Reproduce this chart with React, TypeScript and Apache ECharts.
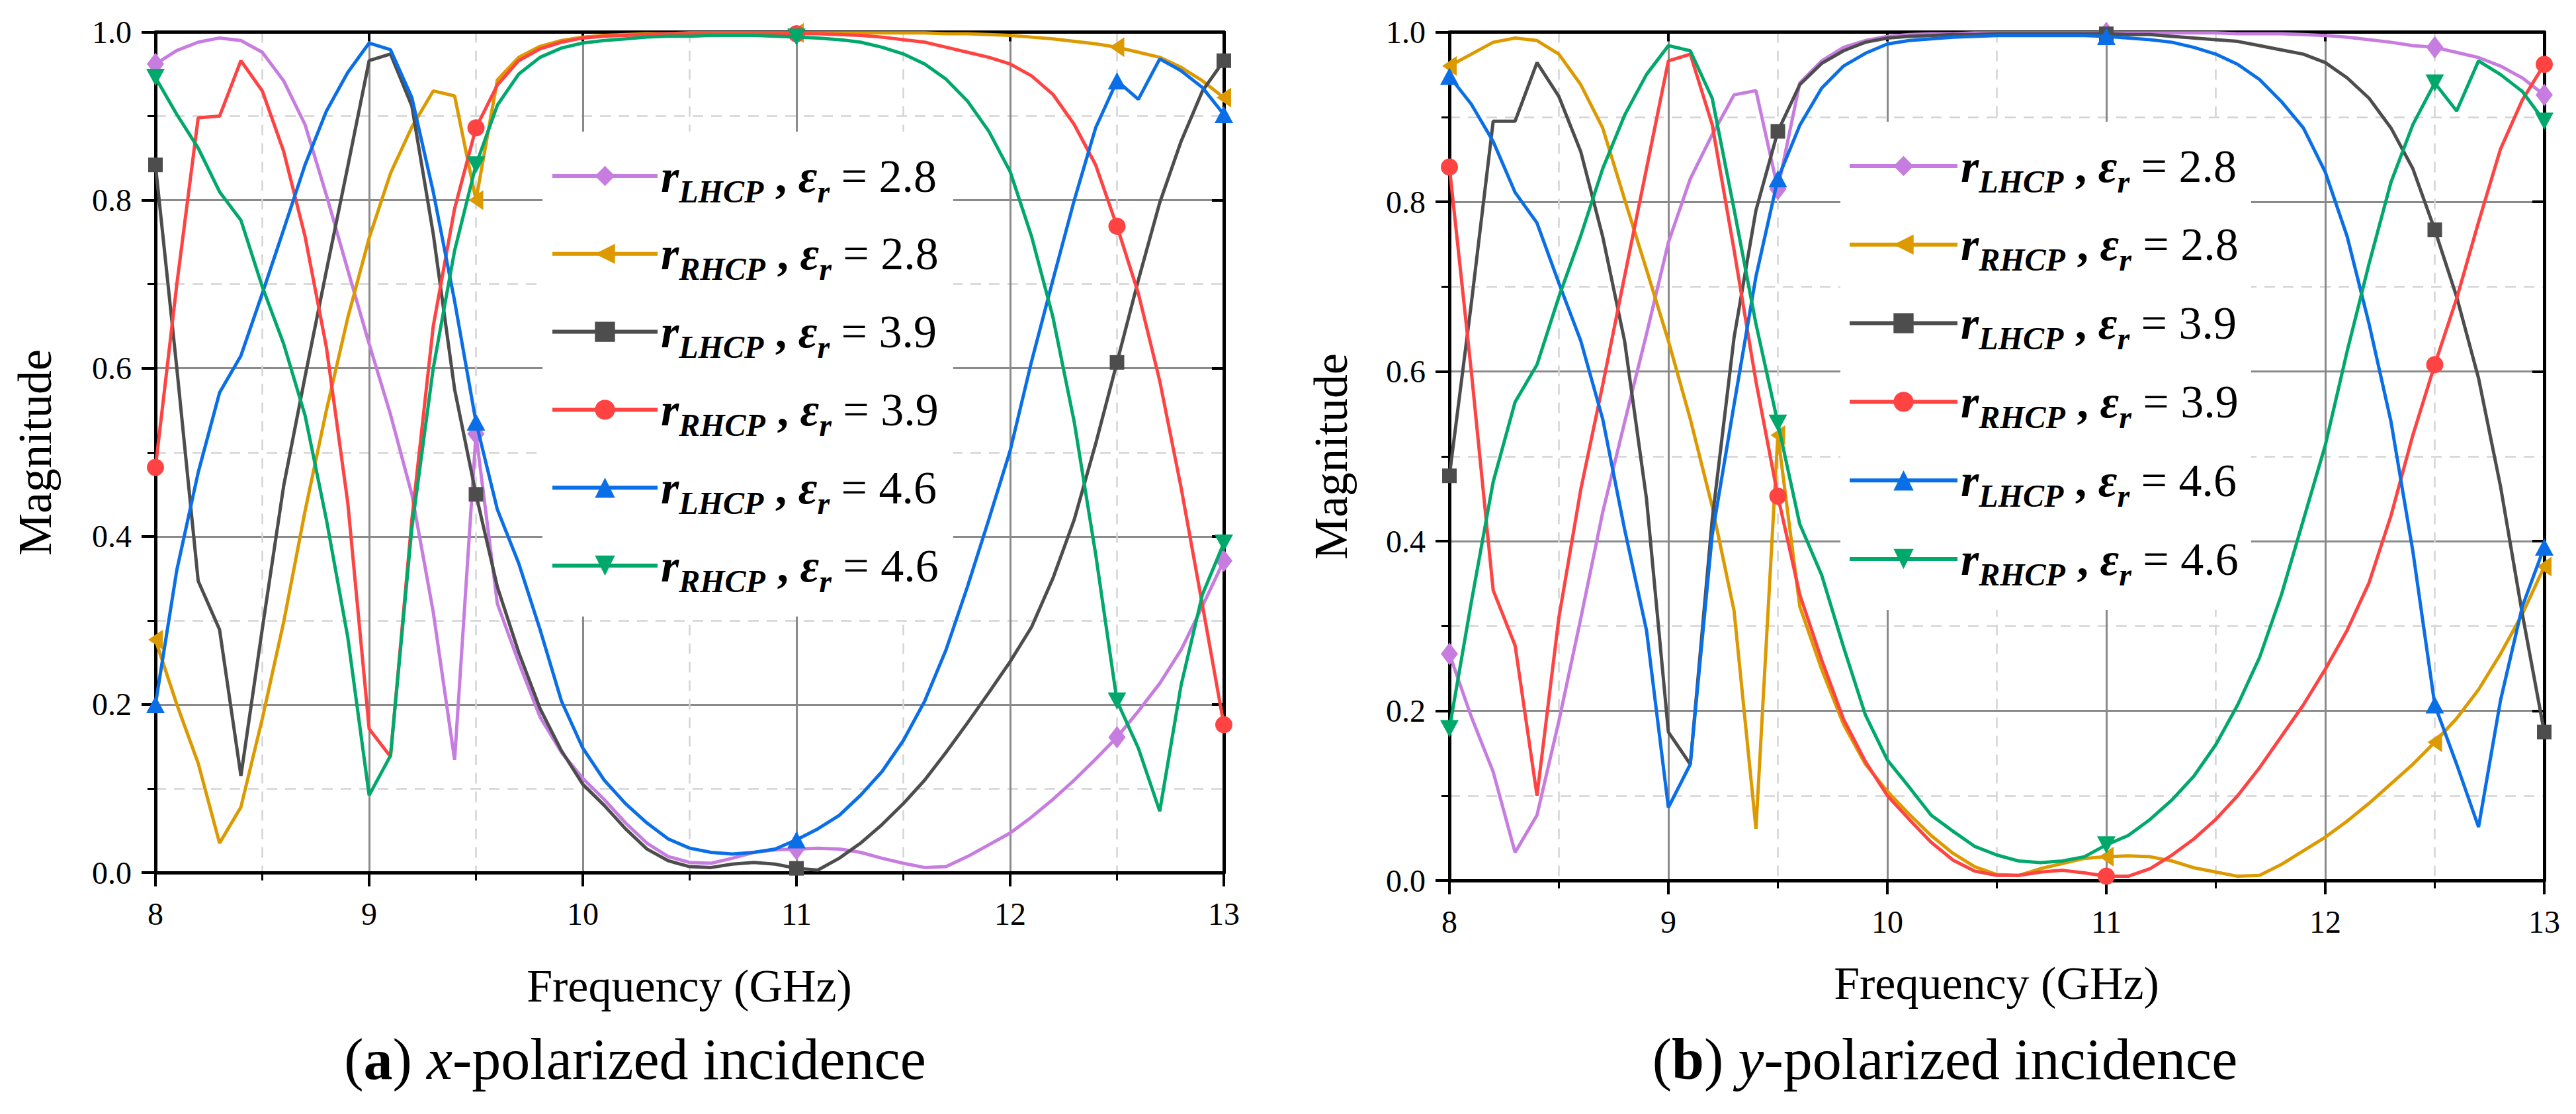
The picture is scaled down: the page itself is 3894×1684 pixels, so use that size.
import React, { useEffect, useRef } from "react";
import * as echarts from "echarts";

// ---------------- data ----------------
const FREQ = [
  8.0, 8.1, 8.2, 8.3, 8.4, 8.5, 8.6, 8.7, 8.8, 8.9,
  9.0, 9.1, 9.2, 9.3, 9.4, 9.5, 9.6, 9.7, 9.8, 9.9,
  10.0, 10.1, 10.2, 10.3, 10.4, 10.5, 10.6, 10.7, 10.8, 10.9,
  11.0, 11.1, 11.2, 11.3, 11.4, 11.5, 11.6, 11.7, 11.8, 11.9,
  12.0, 12.1, 12.2, 12.3, 12.4, 12.5, 12.6, 12.7, 12.8, 12.9,
  13.0,
];
// indices of the points that carry a marker (8, 9.5, 11, 12.5, 13 GHz)
const MARK_IDX = [0, 15, 30, 45, 50];

const X_TICKS = [8, 9, 10, 11, 12, 13];
const Y_TICKS = [0.0, 0.2, 0.4, 0.6, 0.8, 1.0];

// (a) x-polarized incidence
const X_LHCP_28 = [
  0.962, 0.978, 0.988, 0.993, 0.990, 0.976, 0.942, 0.890, 0.806, 0.717,
  0.629, 0.545, 0.450, 0.310, 0.134, 0.522, 0.320, 0.250, 0.185, 0.143,
  0.112, 0.087, 0.059, 0.035, 0.019, 0.012, 0.011, 0.017, 0.024, 0.027,
  0.028, 0.029, 0.028, 0.024, 0.017, 0.011, 0.006, 0.007, 0.019, 0.033,
  0.047, 0.066, 0.087, 0.110, 0.135, 0.161, 0.192, 0.225, 0.265, 0.317,
  0.371,
];
const X_RHCP_28 = [
  0.277, 0.200, 0.130, 0.035, 0.078, 0.183, 0.298, 0.430, 0.550, 0.660,
  0.755, 0.832, 0.887, 0.930, 0.924, 0.800, 0.943, 0.970, 0.983, 0.990,
  0.994, 0.996, 0.997, 0.998, 0.998, 0.999, 0.999, 0.999, 0.999, 0.999,
  0.999, 0.999, 0.999, 0.999, 0.999, 0.999, 0.999, 0.998, 0.998, 0.997,
  0.996, 0.994, 0.992, 0.989, 0.986, 0.982, 0.976, 0.970, 0.958, 0.942,
  0.922,
];
const X_LHCP_39 = [
  0.842, 0.600, 0.347, 0.289, 0.115, 0.290, 0.460, 0.590, 0.716, 0.840,
  0.966, 0.974, 0.912, 0.760, 0.575, 0.450, 0.340, 0.262, 0.195, 0.145,
  0.105, 0.080, 0.052, 0.028, 0.014, 0.007, 0.006, 0.010, 0.012, 0.010,
  0.005, 0.003, 0.017, 0.035, 0.057, 0.082, 0.110, 0.143, 0.178, 0.214,
  0.251, 0.292, 0.350, 0.420, 0.510, 0.607, 0.705, 0.797, 0.870, 0.930,
  0.966,
];
const X_RHCP_39 = [
  0.482, 0.700, 0.898, 0.900, 0.966, 0.930, 0.858, 0.757, 0.625, 0.440,
  0.171, 0.138, 0.420, 0.650, 0.790, 0.886, 0.937, 0.966, 0.980, 0.988,
  0.993, 0.995, 0.996, 0.997, 0.998, 0.998, 0.998, 0.998, 0.998, 0.998,
  0.998, 0.998, 0.997, 0.996, 0.994, 0.991, 0.988, 0.982, 0.976, 0.970,
  0.962, 0.948, 0.926, 0.890, 0.842, 0.769, 0.689, 0.585, 0.458, 0.318,
  0.176,
];
const X_LHCP_46 = [
  0.200, 0.360, 0.476, 0.571, 0.615, 0.689, 0.765, 0.842, 0.906, 0.952,
  0.987, 0.979, 0.922, 0.810, 0.680, 0.536, 0.432, 0.368, 0.289, 0.204,
  0.148, 0.110, 0.082, 0.059, 0.040, 0.029, 0.024, 0.022, 0.024, 0.028,
  0.039, 0.052, 0.068, 0.092, 0.120, 0.157, 0.204, 0.265, 0.340, 0.420,
  0.502, 0.608, 0.705, 0.800, 0.886, 0.942, 0.920, 0.968, 0.954, 0.934,
  0.902,
];
const X_RHCP_46 = [
  0.946, 0.902, 0.862, 0.810, 0.776, 0.697, 0.629, 0.544, 0.420, 0.280,
  0.092, 0.139, 0.410, 0.600, 0.740, 0.842, 0.913, 0.950, 0.970, 0.981,
  0.987, 0.990, 0.992, 0.994, 0.995, 0.995, 0.996, 0.996, 0.996, 0.995,
  0.994, 0.993, 0.991, 0.988, 0.982, 0.974, 0.962, 0.944, 0.918, 0.882,
  0.834, 0.757, 0.661, 0.536, 0.379, 0.204, 0.148, 0.073, 0.223, 0.331,
  0.392,
];

// (b) y-polarized incidence
const Y_LHCP_28 = [
  0.267, 0.193, 0.128, 0.033, 0.077, 0.188, 0.309, 0.434, 0.540, 0.644,
  0.752, 0.827, 0.879, 0.926, 0.931, 0.815, 0.940, 0.966, 0.982, 0.990,
  0.995, 0.997, 0.998, 0.998, 0.999, 0.999, 0.999, 0.999, 0.999, 0.999,
  0.999, 0.999, 0.999, 0.999, 0.999, 0.999, 0.998, 0.998, 0.998, 0.997,
  0.996, 0.994, 0.991, 0.988, 0.984, 0.982, 0.976, 0.970, 0.960, 0.946,
  0.926,
];
const Y_RHCP_28 = [
  0.960, 0.974, 0.988, 0.993, 0.990, 0.974, 0.938, 0.887, 0.803, 0.720,
  0.636, 0.544, 0.441, 0.318, 0.061, 0.525, 0.323, 0.249, 0.184, 0.137,
  0.105, 0.078, 0.053, 0.032, 0.016, 0.007, 0.006, 0.014, 0.020, 0.026,
  0.028, 0.029, 0.028, 0.023, 0.015, 0.010, 0.005, 0.006, 0.019, 0.035,
  0.051, 0.070, 0.091, 0.114, 0.137, 0.163, 0.191, 0.225, 0.267, 0.314,
  0.370,
];
const Y_LHCP_39 = [
  0.477, 0.680, 0.895, 0.895, 0.964, 0.924, 0.859, 0.759, 0.636, 0.450,
  0.175, 0.137, 0.425, 0.640, 0.790, 0.883, 0.938, 0.963, 0.978, 0.988,
  0.993, 0.995, 0.996, 0.997, 0.997, 0.998, 0.998, 0.998, 0.998, 0.998,
  0.998, 0.997, 0.997, 0.995, 0.993, 0.991, 0.989, 0.984, 0.979, 0.974,
  0.964, 0.946, 0.922, 0.887, 0.839, 0.767, 0.688, 0.592, 0.465, 0.314,
  0.175,
];
const Y_RHCP_39 = [
  0.841, 0.600, 0.342, 0.277, 0.100, 0.310, 0.461, 0.584, 0.712, 0.839,
  0.966, 0.974, 0.891, 0.743, 0.588, 0.453, 0.337, 0.260, 0.190, 0.140,
  0.100, 0.072, 0.045, 0.024, 0.011, 0.006, 0.006, 0.010, 0.012, 0.009,
  0.005, 0.005, 0.014, 0.030, 0.049, 0.072, 0.100, 0.133, 0.170, 0.207,
  0.249, 0.295, 0.351, 0.430, 0.525, 0.608, 0.686, 0.776, 0.862, 0.920,
  0.962,
];
const Y_LHCP_46 = [
  0.948, 0.915, 0.871, 0.811, 0.775, 0.704, 0.636, 0.544, 0.414, 0.295,
  0.086, 0.137, 0.407, 0.561, 0.712, 0.827, 0.890, 0.934, 0.960, 0.975,
  0.986, 0.990, 0.992, 0.994, 0.995, 0.996, 0.996, 0.996, 0.996, 0.996,
  0.995, 0.993, 0.991, 0.988, 0.982, 0.974, 0.962, 0.944, 0.918, 0.887,
  0.835, 0.759, 0.656, 0.541, 0.388, 0.207, 0.137, 0.063, 0.212, 0.323,
  0.393,
];
const Y_RHCP_46 = [
  0.179, 0.328, 0.470, 0.564, 0.608, 0.688, 0.760, 0.839, 0.902, 0.950,
  0.984, 0.978, 0.922, 0.791, 0.656, 0.539, 0.420, 0.360, 0.275, 0.195,
  0.142, 0.110, 0.077, 0.058, 0.040, 0.030, 0.023, 0.021, 0.023, 0.028,
  0.042, 0.053, 0.072, 0.095, 0.123, 0.160, 0.207, 0.263, 0.337, 0.425,
  0.513, 0.624, 0.727, 0.823, 0.891, 0.940, 0.907, 0.966, 0.950, 0.930,
  0.895,
];

const SERIES_NAMES = [
  "rLHCP, εr = 2.8",
  "rRHCP, εr = 2.8",
  "rLHCP, εr = 3.9",
  "rRHCP, εr = 3.9",
  "rLHCP, εr = 4.6",
  "rRHCP, εr = 4.6",
];
const LEGEND_RICH_TEXT = [
  "{r|r}{sub|LHCP}{c| , }{e|ε}{sub|r}{n| = 2.8}",
  "{r|r}{sub|RHCP}{c| , }{e|ε}{sub|r}{n| = 2.8}",
  "{r|r}{sub|LHCP}{c| , }{e|ε}{sub|r}{n| = 3.9}",
  "{r|r}{sub|RHCP}{c| , }{e|ε}{sub|r}{n| = 3.9}",
  "{r|r}{sub|LHCP}{c| , }{e|ε}{sub|r}{n| = 4.6}",
  "{r|r}{sub|RHCP}{c| , }{e|ε}{sub|r}{n| = 4.6}",
];
const X_POL_DATA = [X_LHCP_28, X_RHCP_28, X_LHCP_39, X_RHCP_39, X_LHCP_46, X_RHCP_46];
const Y_POL_DATA = [Y_LHCP_28, Y_RHCP_28, Y_LHCP_39, Y_RHCP_39, Y_LHCP_46, Y_RHCP_46];

// ---------------- styles ----------------
const COLORS = ["#C77DE0", "#DC9A00", "#4D4D4D", "#FF4343", "#0A6FE6", "#00A86B"];
const SYMBOLS = [
  "diamond",
  "path://M10,0L10,16L0,8Z",
  "rect",
  "circle",
  "triangle",
  "path://M0,0L16,0L8,14Z",
];
const SYMBOL_SIZES: any[] = [[26, 34], [22, 30], 22, 26, [28, 26], [28, 26]];

const FONT = "Liberation Serif";

function buildSeries(data: number[][], xIdx: number, yIdx: number) {
  return data.map((vals, s) => ({
    type: "line",
    name: SERIES_NAMES[s],
    xAxisIndex: xIdx,
    yAxisIndex: yIdx,
    symbol: SYMBOLS[s],
    symbolSize: SYMBOL_SIZES[s],
    showSymbol: true,
    showAllSymbol: true,
    smooth: false,
    clip: false,
    z: 3 + s,
    lineStyle: { width: 5, color: COLORS[s] },
    itemStyle: { color: COLORS[s], borderWidth: 0 },
    emphasis: { disabled: true },
    data: vals.map((v, i) =>
      MARK_IDX.includes(i) ? { value: [FREQ[i], v] } : { value: [FREQ[i], v], symbol: "none" }
    ),
  }));
}

const AXIS_LINE = { show: true, onZero: false, lineStyle: { color: "#000", width: 5 } };
const MAJOR_GRID = { show: true, lineStyle: { color: "#8a8a8a", width: 3, type: "solid" } };
const MINOR_GRID = { show: true, lineStyle: { color: "#d4d4d4", width: 2.5, type: [16, 12] } };
const TICK_RICH = { t: { fontFamily: FONT, fontSize: 48, color: "#000" } };
const LABEL = { color: "#000", fontFamily: FONT, fontSize: 48, rich: TICK_RICH };

function bottomX(gridIndex: number) {
  return {
    type: "value",
    gridIndex,
    position: "bottom",
    min: X_TICKS[0],
    max: X_TICKS[X_TICKS.length - 1],
    interval: 1,
    axisLine: AXIS_LINE,
    axisTick: { show: true, inside: false, length: 21, lineStyle: { color: "#000", width: 4 } },
    minorTick: { show: true, splitNumber: 2, length: 12, lineStyle: { color: "#000", width: 3 } },
    axisLabel: { ...LABEL, margin: 38, formatter: (v: number) => `{t|${v}}` },
    splitLine: MAJOR_GRID,
    minorSplitLine: MINOR_GRID,
  };
}
function topX(gridIndex: number) {
  return {
    type: "value",
    gridIndex,
    position: "top",
    min: X_TICKS[0],
    max: X_TICKS[X_TICKS.length - 1],
    interval: 1,
    axisLine: AXIS_LINE,
    axisTick: { show: true, inside: true, length: 14, lineStyle: { color: "#000", width: 4 } },
    axisLabel: { show: false },
    splitLine: { show: false },
  };
}
function leftY(gridIndex: number) {
  return {
    type: "value",
    gridIndex,
    position: "left",
    min: Y_TICKS[0],
    max: Y_TICKS[Y_TICKS.length - 1],
    interval: 0.2,
    axisLine: AXIS_LINE,
    axisTick: { show: true, inside: false, length: 21, lineStyle: { color: "#000", width: 4 } },
    minorTick: { show: true, splitNumber: 2, length: 12, lineStyle: { color: "#000", width: 3 } },
    axisLabel: { ...LABEL, margin: 36, formatter: (v: number) => `{t|${v.toFixed(1)}}` },
    splitLine: MAJOR_GRID,
    minorSplitLine: MINOR_GRID,
  };
}
function rightY(gridIndex: number) {
  return {
    type: "value",
    gridIndex,
    position: "right",
    min: Y_TICKS[0],
    max: Y_TICKS[Y_TICKS.length - 1],
    interval: 0.2,
    axisLine: AXIS_LINE,
    axisTick: { show: true, inside: true, length: 18, lineStyle: { color: "#000", width: 4 } },
    axisLabel: { show: false },
    splitLine: { show: false },
  };
}

const RICH = {
  r: { fontFamily: FONT, fontSize: 70, fontWeight: "bold", fontStyle: "italic", lineHeight: 90, color: "#000" },
  sub: {
    fontFamily: FONT, fontSize: 48, fontWeight: "bold", fontStyle: "italic",
    lineHeight: 90, padding: [46, 0, 0, 0], color: "#000",
  },
  c: { fontFamily: FONT, fontSize: 70, fontWeight: "bold", lineHeight: 90, color: "#000" },
  e: { fontFamily: FONT, fontSize: 70, fontWeight: "bold", fontStyle: "italic", lineHeight: 90, color: "#000" },
  n: { fontFamily: FONT, fontSize: 70, fontWeight: "normal", fontStyle: "normal", lineHeight: 90, color: "#000" },
};

function legendFor(left: number, top: number, gap: number, itemWidth: number, padding: number[]) {
  return {
    show: true,
    orient: "vertical",
    left,
    top,
    padding,
    itemGap: gap,
    itemWidth,
    itemHeight: 38,
    backgroundColor: "#ffffff",
    selectedMode: false,
    lineStyle: { width: 6 },
    data: SERIES_NAMES,
    formatter: (name: string) => LEGEND_RICH_TEXT[SERIES_NAMES.indexOf(name)],
    textStyle: { fontFamily: FONT, fontSize: 70, color: "#000", rich: RICH },
  };
}

const TEXT_RICH = (size: number) => ({
  t: { fontFamily: FONT, fontSize: size, fontWeight: "normal", fontStyle: "normal", fill: "#000", color: "#000" },
  b: { fontFamily: FONT, fontSize: size, fontWeight: "bold", fontStyle: "normal", fill: "#000", color: "#000" },
  i: { fontFamily: FONT, fontSize: size, fontWeight: "normal", fontStyle: "italic", fill: "#000", color: "#000" },
});

function textEl(x: number, y: number, text: string, size: number, rotation = 0) {
  return {
    type: "text",
    x,
    y,
    rotation,
    silent: true,
    style: {
      text,
      fontFamily: FONT,
      fontSize: size,
      fill: "#000",
      align: "center",
      verticalAlign: "middle",
      textAlign: "center",
      textVerticalAlign: "middle",
      rich: TEXT_RICH(size),
    },
  };
}

export default function App() {
  const ref = useRef<HTMLDivElement>(null);
  useEffect(() => {
    if (!ref.current) return;
    const chart = echarts.init(ref.current, null, { renderer: "svg" });
    const option: any = {
      animation: false,
      backgroundColor: "#ffffff",
      textStyle: { fontFamily: FONT },
      grid: [
        { left: 235, top: 48.5, width: 1615, height: 1270.5, containLabel: false },
        { left: 2191, top: 48.5, width: 1655, height: 1282.5, containLabel: false },
      ],
      xAxis: [bottomX(0), topX(0), bottomX(1), topX(1)],
      yAxis: [leftY(0), rightY(0), leftY(1), rightY(1)],
      legend: [
        legendFor(820, 199, 23.8, 159, [20, 22, 30, 12]),
        legendFor(2782, 184, 24.8, 163, [20, 19, 30, 11]),
      ],
      series: [...buildSeries(X_POL_DATA, 0, 0), ...buildSeries(Y_POL_DATA, 2, 2)],
      graphic: [
        textEl(53, 684, "{t|Magnitude}", 72, Math.PI / 2),
        textEl(2012, 690, "{t|Magnitude}", 72, Math.PI / 2),
        textEl(1042, 1490, "{t|Frequency (GHz)}", 70),
        textEl(3018, 1486, "{t|Frequency (GHz)}", 70),
        textEl(960, 1601, "{t|(}{b|a}{t|) }{i|x}{t|-polarized incidence}", 88),
        textEl(2940, 1601, "{t|(}{b|b}{t|) }{i|y}{t|-polarized incidence}", 88),
      ],
    };
    chart.setOption(option);
    return () => chart.dispose();
  }, []);
  return (
    <div
      ref={ref}
      style={{ position: "absolute", left: 0, top: 0, width: 3894, height: 1684, background: "#fff" }}
    />
  );
}
